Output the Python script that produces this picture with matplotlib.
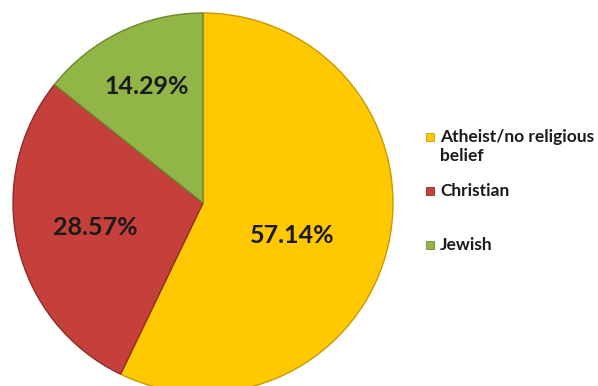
import matplotlib.pyplot as plt
from matplotlib.patches import Rectangle
import numpy as np

labels = ['Atheist/no religious\nbelief', 'Christian', 'Jewish']
values = [57.14, 28.57, 14.29]
colors = ['#FFC800', '#C5403A', '#92B547']
edges = ['#C89B00', '#8E2B27', '#6A8A2E']

# radial position of each percentage label, as a fraction of the radius
label_r = [0.50, 0.58, 0.68]

plt.rcParams['font.family'] = ['Lato', 'DejaVu Sans']

fig = plt.figure(figsize=(5.98, 3.86), dpi=100)
ax = fig.add_axes([0, 0, 1, 1])

cx, cy, R = 203, 183, 190
wedges, _ = ax.pie(values, colors=colors, startangle=90, counterclock=False,
                   center=(cx, cy), radius=R, frame=True,
                   wedgeprops=dict(linewidth=1.0))
ax.set_xlim(0, 598)
ax.set_ylim(0, 386)
ax.set_aspect('equal')
ax.axis('off')

for w, ec, v, r in zip(wedges, edges, values, label_r):
    w.set_edgecolor(ec)
    mid = np.deg2rad((w.theta1 + w.theta2) / 2)
    if v == values[0]:
        mid -= np.deg2rad(7)
    ax.text(cx + r * R * np.cos(mid), cy + r * R * np.sin(mid), f'{v:.2f}%',
            ha='center', va='center', fontsize=18, fontweight='bold', color='#1a1a1a')

# legend drawn as squares and text
legend_y = [138, 192, 246]
for lab, c, ec, y in zip(labels, colors, edges, legend_y):
    ax.add_patch(Rectangle((426, 386 - y - 3), 8, 8, facecolor=c, edgecolor=ec, lw=0.6))
    ax.text(440, 386 - y + 9, lab, ha='left', va='top', fontsize=12.5,
            fontweight='bold', color='#1a1a1a', linespacing=1.25)

fig.savefig('out.png', dpi=100)
